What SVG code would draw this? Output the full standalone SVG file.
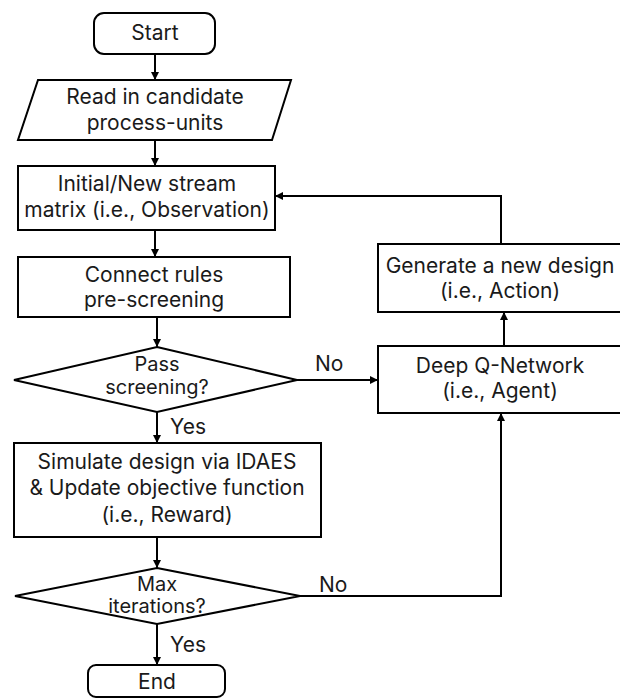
<svg xmlns="http://www.w3.org/2000/svg" width="620" height="698" viewBox="0 0 620 698">
<defs>
<marker id="ah" viewBox="0 0 10 10" refX="10" refY="5" markerWidth="8" markerHeight="8" markerUnits="userSpaceOnUse" orient="auto">
<path d="M0,0 L10,5 L0,10 z" fill="#000"/>
</marker>
<style>
.s{fill:#fff;stroke:#000;stroke-width:2}
.t{font-family:Inter,"Liberation Sans",sans-serif;font-size:21px;fill:#1a1a1a;text-anchor:middle}
.d{font-family:Inter,"Liberation Sans",sans-serif;font-size:20px;fill:#1a1a1a;text-anchor:middle}
.l{font-family:Inter,"Liberation Sans",sans-serif;font-size:21px;fill:#1a1a1a}
.c{fill:none;stroke:#000;stroke-width:2;marker-end:url(#ah)}
</style>
</defs>
<rect width="620" height="698" fill="#fff"/>
<g id="connectors">
<line class="c" x1="155" y1="54" x2="155" y2="80"/>
<line class="c" x1="155" y1="140" x2="155" y2="166"/>
<line class="c" x1="155" y1="230" x2="155" y2="257"/>
<line class="c" x1="157" y1="317" x2="157" y2="347"/>
<line class="c" x1="157" y1="412" x2="157" y2="443"/>
<line class="c" x1="157" y1="537" x2="157" y2="568"/>
<line class="c" x1="157" y1="624" x2="157" y2="665"/>
<line class="c" x1="297" y1="380" x2="378" y2="380"/>
<polyline class="c" points="300,596 501,596 501,413"/>
<line class="c" x1="504" y1="346" x2="504" y2="312"/>
<polyline class="c" points="501,244 501,196 275,196"/>
<text class="l" x="315" y="371">No</text>
<text class="l" x="319" y="592">No</text>
<text class="l" x="170" y="434">Yes</text>
<text class="l" x="170" y="652">Yes</text>
</g>
<g id="start">
<rect class="s" x="94" y="13" width="121" height="41" rx="10"/>
<text class="t" x="155" y="40">Start</text>
</g>
<g id="read">
<polygon class="s" points="38,80 291,80 272,140 18,140"/>
<text class="t" x="155" y="104">Read in candidate</text>
<text class="t" x="155" y="130">process-units</text>
</g>
<g id="observation">
<rect class="s" x="18" y="166" width="257" height="64"/>
<text class="t" x="147" y="191">Initial/New stream</text>
<text class="t" x="147" y="217">matrix (i.e., Observation)</text>
</g>
<g id="prescreen">
<rect class="s" x="18" y="257" width="272" height="60"/>
<text class="t" x="154" y="282">Connect rules</text>
<text class="t" x="154" y="307">pre-screening</text>
</g>
<g id="pass">
<polygon class="s" points="157,347 297,380 157,412 14,380"/>
<text class="d" x="157" y="371">Pass</text>
<text class="d" x="157" y="394">screening?</text>
</g>
<g id="simulate">
<rect class="s" x="14" y="443" width="307" height="94"/>
<text class="t" x="167" y="469">Simulate design via IDAES</text>
<text class="t" x="167" y="495">&amp; Update objective function</text>
<text class="t" x="167" y="522">(i.e., Reward)</text>
</g>
<g id="maxiter">
<polygon class="s" points="157,568 300,596 157,624 15,596"/>
<text class="d" x="157" y="591">Max</text>
<text class="d" x="157" y="613">iterations?</text>
</g>
<g id="end">
<rect class="s" x="88" y="665" width="137" height="32" rx="8"/>
<text class="t" x="157" y="689">End</text>
</g>
<g id="action">
<rect class="s" x="378" y="244" width="250" height="68"/>
<text class="t" x="500" y="273">Generate a new design</text>
<text class="t" x="500" y="298">(i.e., Action)</text>
</g>
<g id="agent">
<rect class="s" x="378" y="346" width="250" height="67"/>
<text class="t" x="500" y="373">Deep Q-Network</text>
<text class="t" x="500" y="398">(i.e., Agent)</text>
</g>
</svg>
